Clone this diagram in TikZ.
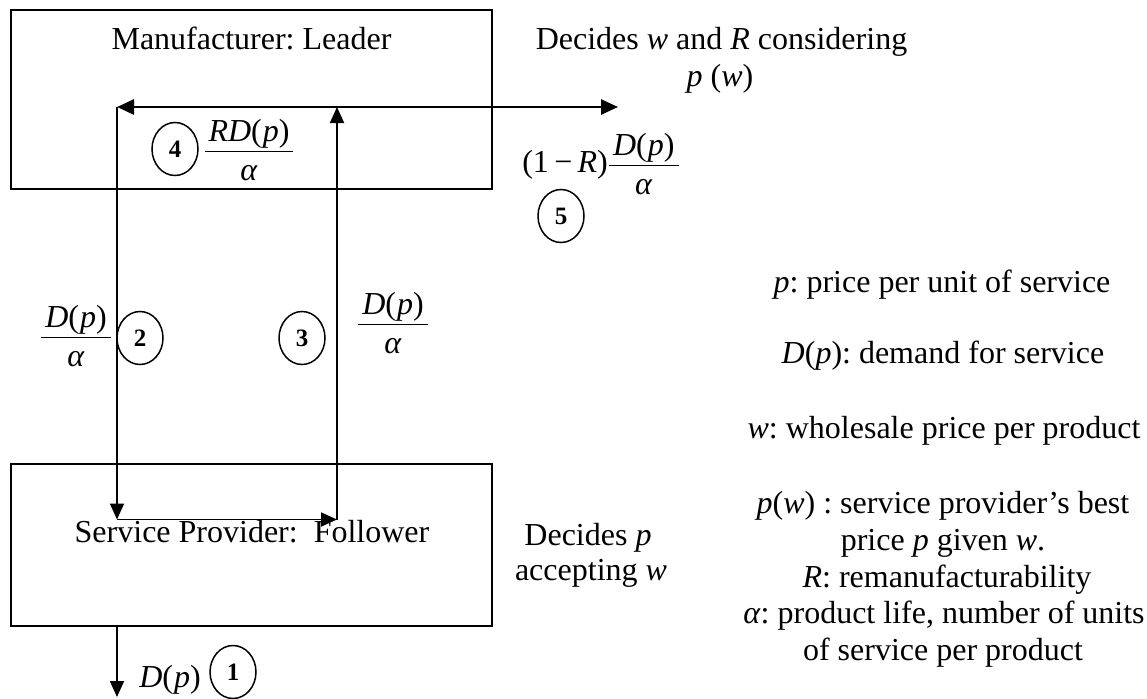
\documentclass[tikz,border=0pt]{standalone}
\usepackage{amsmath}
\usepackage{fontspec}
\setmainfont{Liberation Serif}
\usetikzlibrary{arrows.meta,shapes.geometric}
\frenchspacing
\tikzset{
  boxshape/.style={draw, line width=1.6pt, minimum width=481pt, inner sep=0pt},
  lbl/.style={font=\fontsize{32}{37}\selectfont, inner sep=0pt},
  num/.style={draw, ellipse, line width=1.5pt, minimum width=46pt, minimum height=53pt,
    inner sep=0pt, font=\fontsize{25}{30}\selectfont\bfseries},
  flow/.style={line width=1.8pt, -{Triangle[length=16pt,width=14pt]}},
  flowthick/.style={line width=2.6pt, -{Triangle[length=17pt,width=15pt]}},
}
\newcommand{\Dfrac}[1]{$\dfrac{\text{\kern4pt#1\textit{D}(\kern1pt\textit{p})\kern4pt}}{\text{\textit{α}}\rule{0pt}{25pt}}$}
\begin{document}
\begin{tikzpicture}[x=1pt,y=-1pt]
\useasboundingbox (0,0) rectangle (1147,698);

% boxes
\node[boxshape, minimum height=179pt] (mfr) at (251.5,99.5) {};
\node[boxshape, minimum height=162pt] (sp) at (251.5,545) {};
\node[lbl, anchor=base] (mfrtxt) at (251.5,50) {Manufacturer: Leader};
\node[lbl, anchor=base] (sptxt) at (252,542) {Service Provider:\ \ Follower};

% decisions
\node[lbl, anchor=base] (dec1) at (721.5,50) {Decides \textit{w} and \textit{R} considering};
\node[lbl, anchor=base] (dec2) at (720,87) {\textit{p} (\textit{w})};
\node[lbl, anchor=base] (dec3) at (588,545) {Decides \textit{p}};
\node[lbl, anchor=base] (dec4) at (591,580) {accepting \textit{w}};

% connector points
\coordinate (tl) at (117,107);
\coordinate (tm) at (337,107);
\coordinate (tr) at (618,107);
\coordinate (bl) at (117,519.5);
\coordinate (br) at (337,519.5);
\coordinate (out) at (117,697);

% flows
\draw[flowthick] (tm) -- (tl);
\draw[flowthick] (tm) -- (tr);
\draw[flow] (tl) -- (bl);
\draw[flow] (bl) -- (br);
\draw[flow] (br) -- (tm);
\draw[flow] (sp.south -| tl) -- (out);

% flow labels
\node[lbl, anchor=base] (f2) at (76,344) {\Dfrac{}};
\node[lbl, anchor=base] (f3) at (393,331) {\Dfrac{}};
\node[lbl, anchor=base] (f4) at (249,158) {\Dfrac{\textit{R}}};
\node[lbl, anchor=base] (f5) at (601,172) {(1\,−\,\textit{R})\Dfrac{}};
\node[lbl, anchor=base] (f1) at (170,687) {\textit{D}(\kern1pt\textit{p})};

% step numbers
\node[num] (n1) at (233,672) {1};
\node[num] (n2) at (140,338) {2};
\node[num] (n3) at (302,338) {3};
\node[num] (n4) at (175,149) {4};
\node[num] (n5) at (561,216) {5};

% legend
\node[lbl, anchor=base] (lg1) at (942,292) {\textit{p}: price per unit of service};
\node[lbl, anchor=base] (lg2) at (943,363) {\textit{D}(\textit{p}): demand for service};
\node[lbl, anchor=base] (lg3) at (944,438) {\textit{w}: wholesale price per product};
\node[lbl, anchor=base] (lg4) at (943,513) {\textit{p}(\textit{w}) : service provider’s best};
\node[lbl, anchor=base] (lg5) at (943,550) {price \textit{p} given \textit{w}.};
\node[lbl, anchor=base] (lg6) at (947,587) {\textit{R}: remanufacturability};
\node[lbl, anchor=base] (lg7) at (944,623) {\textit{α}: product life, number of units};
\node[lbl, anchor=base] (lg8) at (943,660) {of service per product};
\end{tikzpicture}
\end{document}
